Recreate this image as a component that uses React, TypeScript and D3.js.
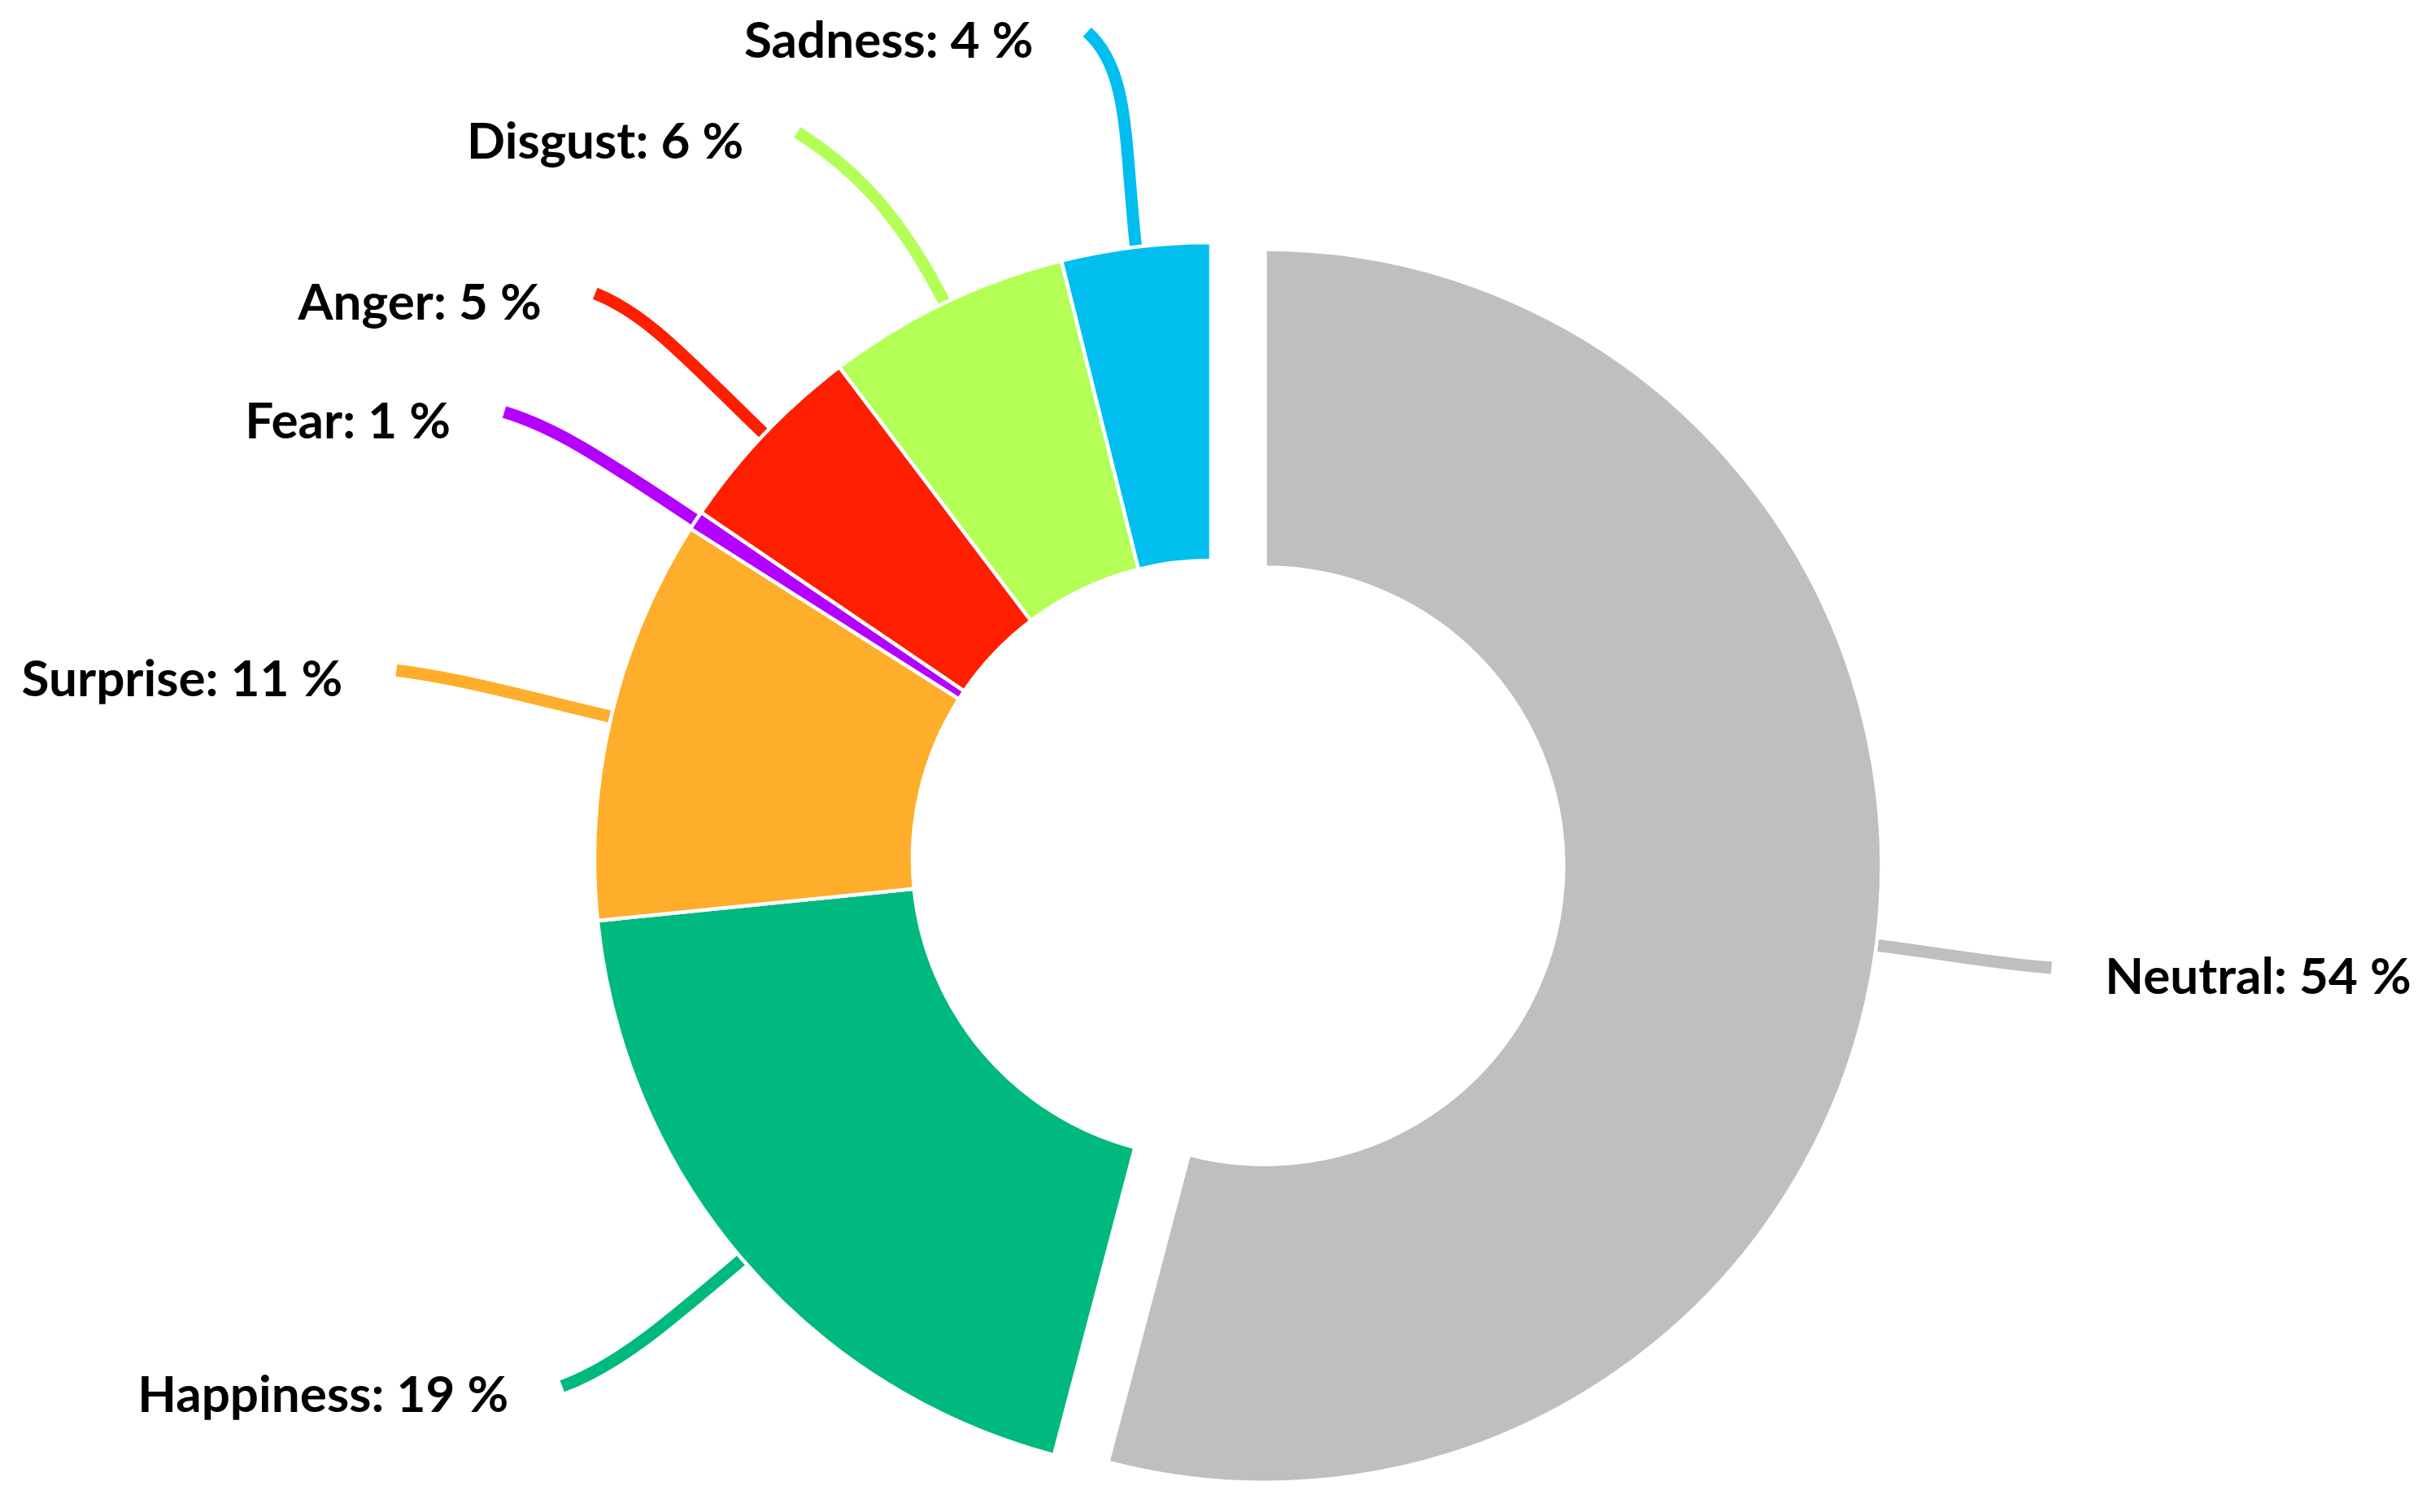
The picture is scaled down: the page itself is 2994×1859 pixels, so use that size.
import React from 'react';
import * as d3 from 'd3';

// ---- data ----
const categories: string[] = ['Neutral', 'Happiness', 'Surprise', 'Fear', 'Anger', 'Disgust', 'Sadness'];
const values: number[] = [54.1, 19.3, 10.6, 0.5, 5.2, 6.4, 3.9];
const labelPercents: number[] = [54, 19, 11, 1, 5, 6, 4];
const colors: string[] = ['#BFBFBF', '#00B97F', '#FFAE2B', '#B300FF', '#FF1F00', '#B3FF56', '#00BEEE'];
const exploded: boolean[] = [true, false, false, false, false, false, false];

// ---- layout ----
const W = 2994;
const H = 1859;
const CX = 1489;
const CY = 1056;
const R_OUT = 758;
const R_IN = 367;
const EXPLODE = 67;
const LABEL_R = 1028;
const LABEL_GAP = 66;
const BASELINE_SHIFT = 32;
const labelAngleNudgeDeg: number[] = [0, 1.4, -0.3, -1, -1, -4.1, -1.5];
const labelRadiusNudge: number[] = [14, 0, 0, 0, 0, 0, 0];

const pt = (a: number, rad: number): [number, number] => [rad * Math.sin(a), -rad * Math.cos(a)];

export default function App() {
  const arcs = d3.pie<number>().sort(null).value((d) => d)(values);
  const arcGen = d3.arc<d3.PieArcDatum<number>>().innerRadius(R_IN).outerRadius(R_OUT);

  const items = arcs.map((a, i) => {
    const mid = (a.startAngle + a.endAngle) / 2;
    const off = exploded[i] ? pt(mid, EXPLODE) : [0, 0];
    const ox = CX + off[0];
    const oy = CY + off[1];
    // leader
    const s = pt(mid, R_OUT - 25);
    const start: [number, number] = [ox + s[0], oy + s[1]];
    const endA = mid + (labelAngleNudgeDeg[i] * Math.PI) / 180;
    const e = pt(endA, LABEL_R + labelRadiusNudge[i]);
    const end: [number, number] = [CX + e[0], CY + e[1]];
    const dir = [Math.sin(mid), -Math.cos(mid)];
    const side = end[0] < CX ? -1 : 1;
    const len = Math.hypot(end[0] - start[0], end[1] - start[1]);
    const p1: [number, number] = [start[0] + dir[0] * len * 0.5, start[1] + dir[1] * len * 0.5];
    let tx = side + dir[0];
    let ty = dir[1];
    const tl = Math.hypot(tx, ty);
    tx /= tl;
    ty /= tl;
    const h = len * 0.25;
    const p2: [number, number] = [end[0] - tx * h, end[1] - ty * h];
    const path = d3.path();
    path.moveTo(start[0], start[1]);
    path.bezierCurveTo(p1[0], p1[1], p2[0], p2[1], end[0], end[1]);
    return {
      d: arcGen(a) as string,
      ox,
      oy,
      leader: path.toString(),
      color: colors[i],
      label: `${categories[i]}: ${labelPercents[i]} %`,
      lx: end[0] + side * LABEL_GAP,
      ly: end[1] + BASELINE_SHIFT,
      anchor: side < 0 ? 'end' : 'start',
    };
  });

  return (
    <svg
      width={W}
      height={H}
      viewBox={`0 0 ${W} ${H}`}
      style={{ position: 'absolute', left: 0, top: 0, background: '#ffffff' }}
    >
      <rect width={W} height={H} fill="#ffffff" />
      <g>
        {items.map((it, i) => (
          <path key={`l${i}`} d={it.leader} fill="none" stroke={it.color} strokeWidth={15} strokeLinecap="butt" />
        ))}
      </g>
      <g>
        {items.map((it, i) => (
          <path
            key={`s${i}`}
            d={it.d}
            transform={`translate(${it.ox},${it.oy})`}
            fill={it.color}
            stroke="#ffffff"
            strokeWidth={4.5}
            strokeLinejoin="miter"
          />
        ))}
      </g>
      <g fontFamily="Lato, 'Open Sans', sans-serif" fontWeight={700} fontSize={62} fill="#000000">
        {items.map((it, i) => (
          <text key={`t${i}`} x={it.lx} y={it.ly} textAnchor={it.anchor}>
            {it.label}
          </text>
        ))}
      </g>
    </svg>
  );
}
